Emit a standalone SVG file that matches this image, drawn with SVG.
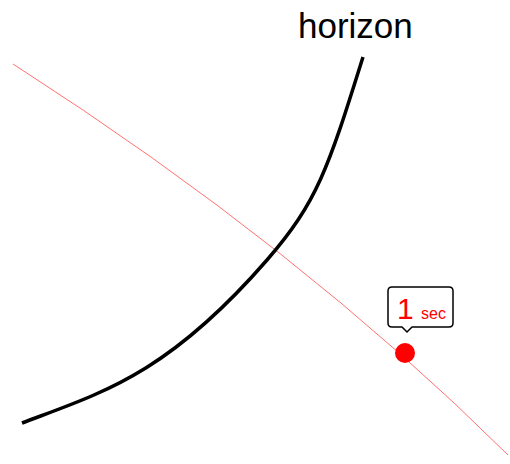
<svg xmlns="http://www.w3.org/2000/svg" width="510" height="464" viewBox="0 0 510 464">
<style>
.lbl{font-family:"Liberation Sans",Arial,sans-serif}
</style>
<rect width="510" height="464" fill="#fff"/>
<g id="connectors">
<path id="redline" d="M13,64 Q300,248 508,455" fill="none" stroke="#ff0000" stroke-width="0.8" stroke-opacity="0.7"/>
<path id="horizon-curve" d="M22,423 C102,392.6 167,375 267,260 C317,202.5 328,169 363,57" fill="none" stroke="#000" stroke-width="3.5"/>
</g>
<g id="horizon-label"><text class="lbl" x="298" y="38" font-size="35">horizon</text></g>
<g id="dot"><circle cx="405" cy="353" r="10" fill="#ff0000"/></g>
<g id="callout">
<path d="M392,287 H449 Q453,287 453,291 V323 Q453,327 449,327 H412 L407,332 L402,327 H392 Q388,327 388,323 V291 Q388,287 392,287 Z" fill="#fff" stroke="#000" stroke-width="1.5"/>
<text class="lbl" x="397" y="319" font-size="30" fill="#ff0000">1</text>
<text class="lbl" x="421" y="319" font-size="16" fill="#ff0000">sec</text>
</g>
</svg>
